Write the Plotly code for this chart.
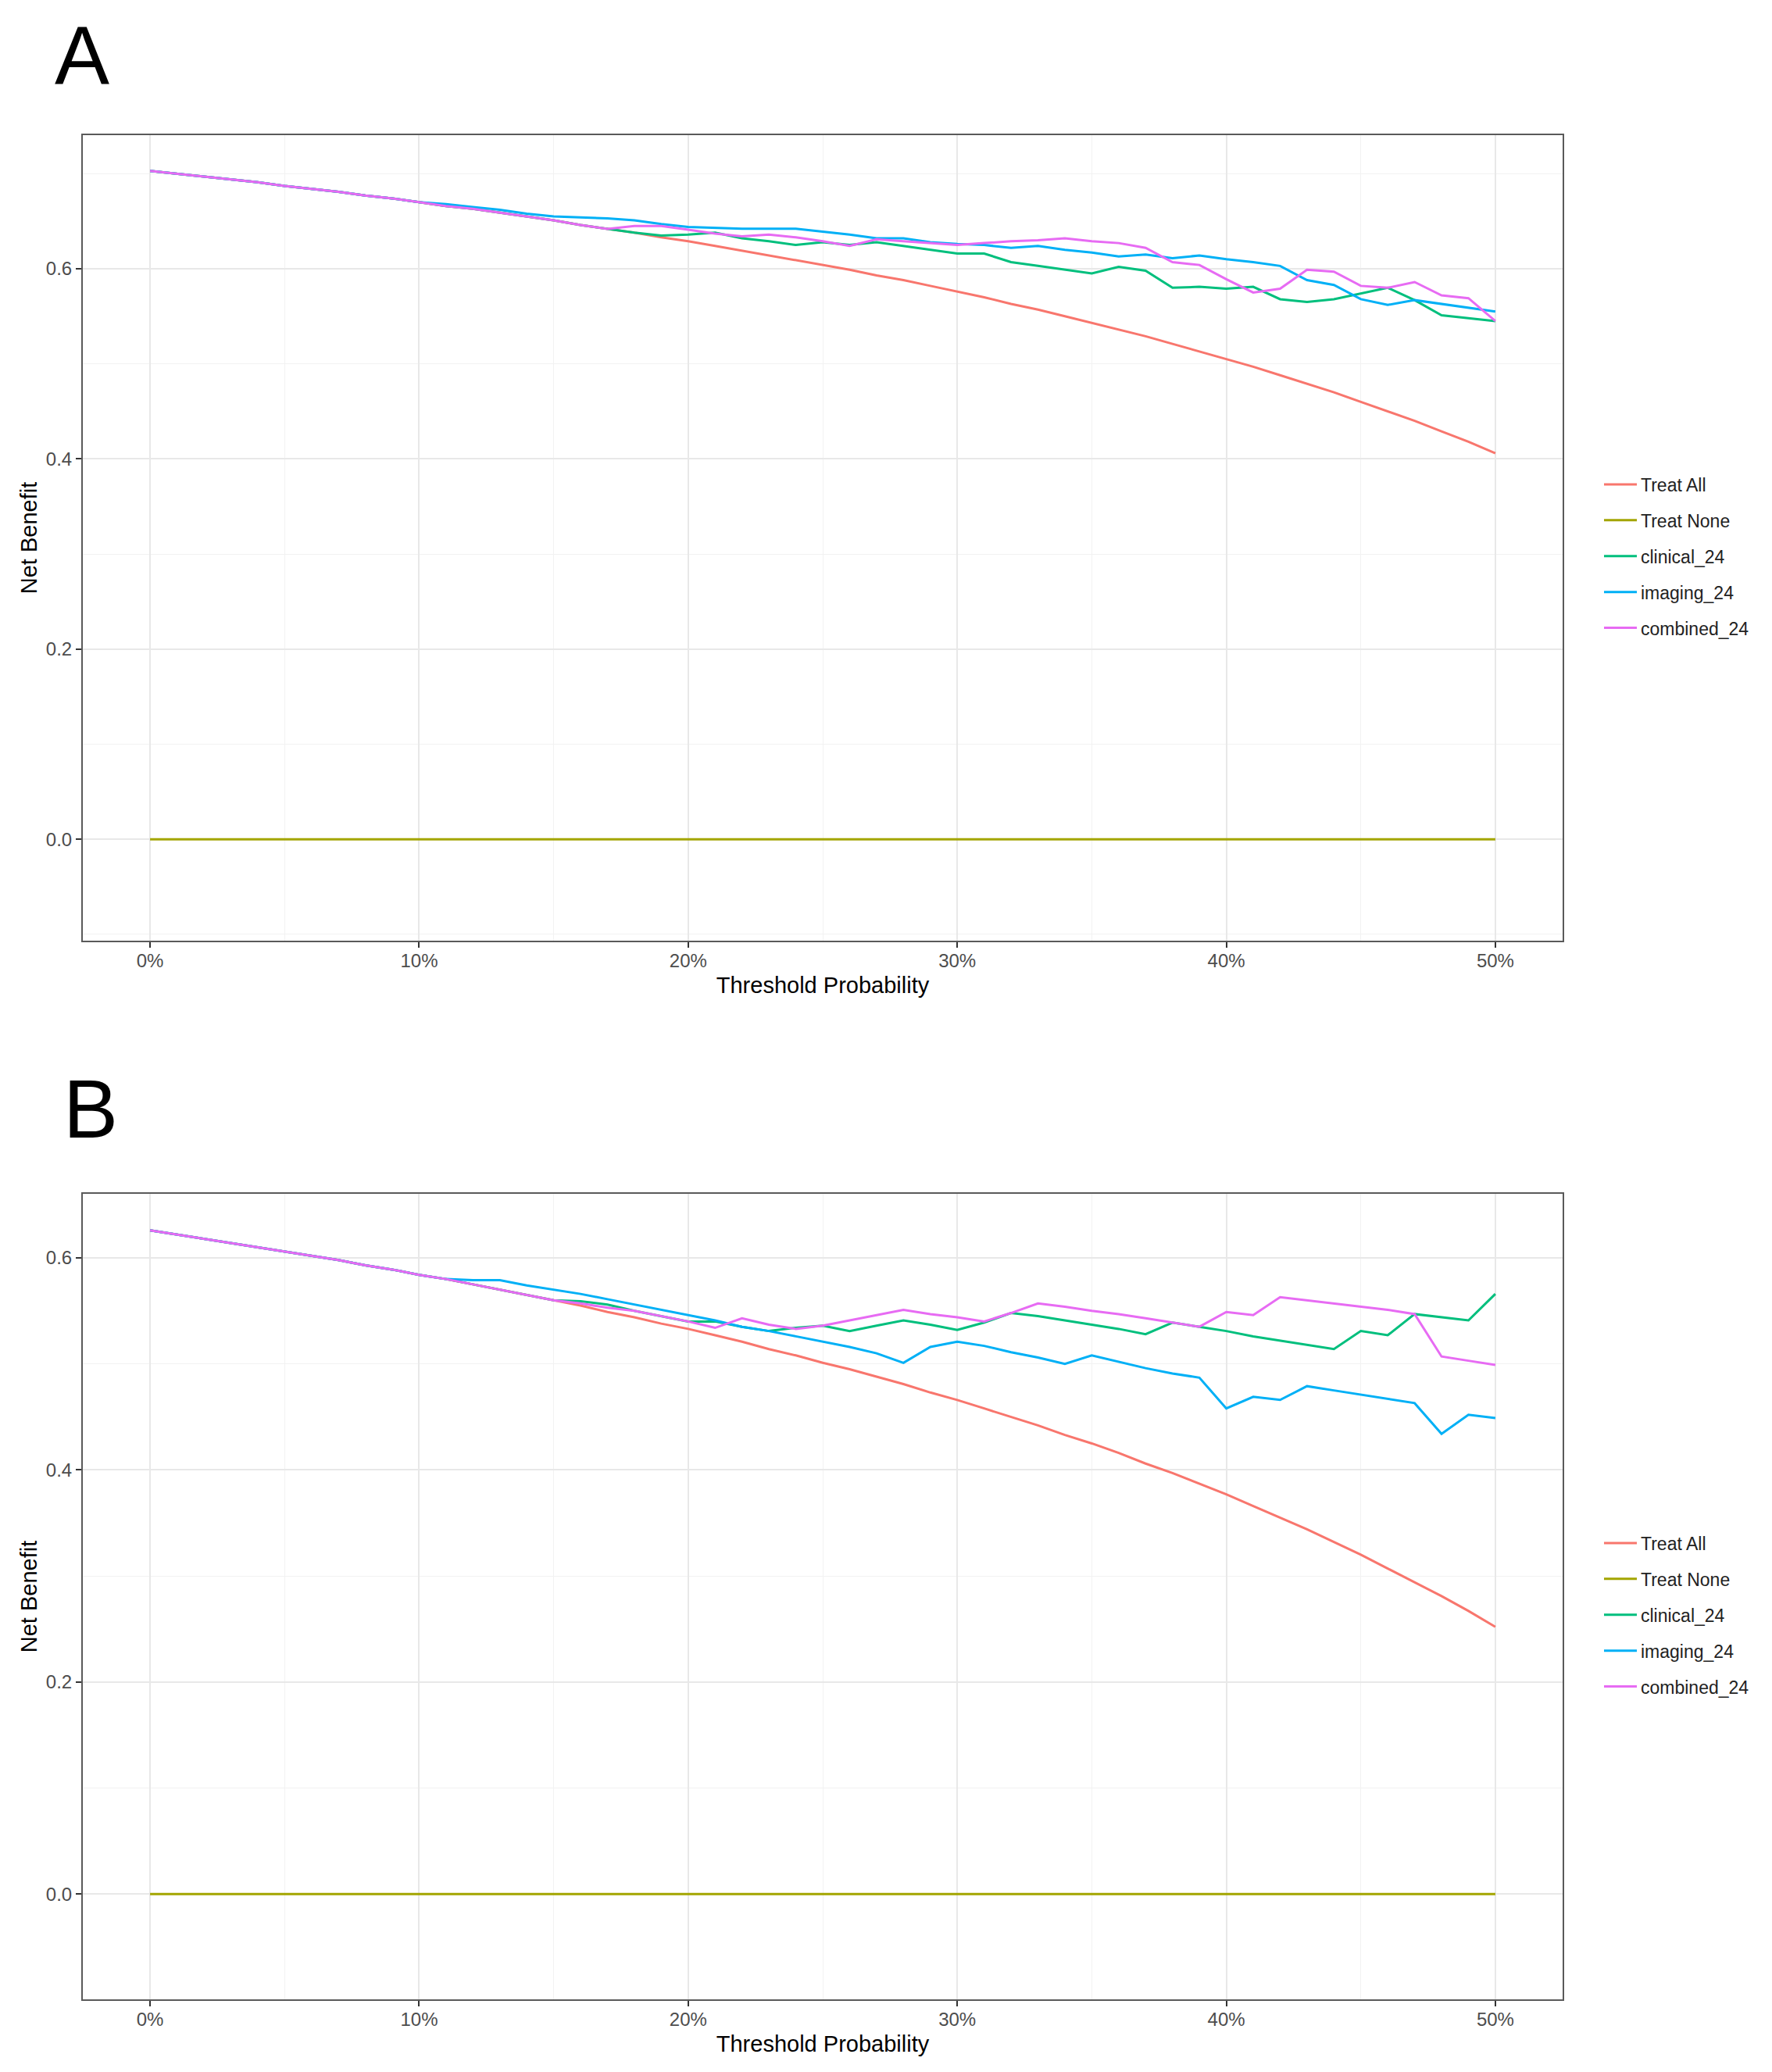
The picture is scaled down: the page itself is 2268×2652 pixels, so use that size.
"""decision curve analysis, two panels (A, B):
net benefit against threshold probability for treat all / treat none
and the three 24-month models"""

import plotly.graph_objects as go

# threshold probability in percent, 0..50 in steps of 1
thresholds = list(range(0, 51))

x_tickvals = [0, 10, 20, 30, 40, 50]
x_ticktext = ["0%", "10%", "20%", "30%", "40%", "50%"]

# ---- panel A ----
treat_all_a = [
    0.703, 0.700, 0.697, 0.694, 0.691, 0.687, 0.684, 0.681, 0.677, 0.674, 0.670,
    0.666, 0.663, 0.659, 0.655, 0.651, 0.646, 0.642, 0.638, 0.633, 0.629,
    0.624, 0.619, 0.614, 0.609, 0.604, 0.599, 0.593, 0.588, 0.582, 0.576,
    0.570, 0.563, 0.557, 0.550, 0.543, 0.536, 0.529, 0.521, 0.513, 0.505,
    0.497, 0.488, 0.479, 0.470, 0.460, 0.450, 0.440, 0.429, 0.418, 0.406,
]
treat_none_a = [0.0] * 51
clinical_a = [
    0.703, 0.700, 0.697, 0.694, 0.691, 0.687, 0.684, 0.681, 0.677, 0.674, 0.670,
    0.666, 0.663, 0.659, 0.655, 0.651, 0.646, 0.642, 0.638, 0.635, 0.636,
    0.638, 0.632, 0.629, 0.625, 0.628, 0.625, 0.628, 0.624, 0.620, 0.616,
    0.616, 0.607, 0.603, 0.599, 0.595, 0.602, 0.598, 0.580, 0.581, 0.579,
    0.581, 0.568, 0.565, 0.568, 0.574, 0.580, 0.567, 0.551, 0.548, 0.545,
]
imaging_a = [
    0.703, 0.700, 0.697, 0.694, 0.691, 0.687, 0.684, 0.681, 0.677, 0.674, 0.670,
    0.668, 0.665, 0.662, 0.658, 0.655, 0.654, 0.653, 0.651, 0.647, 0.644,
    0.643, 0.642, 0.642, 0.642, 0.639, 0.636, 0.632, 0.632, 0.628, 0.626,
    0.625, 0.622, 0.624, 0.620, 0.617, 0.613, 0.615, 0.611, 0.614, 0.610,
    0.607, 0.603, 0.588, 0.583, 0.568, 0.562, 0.567, 0.563, 0.559, 0.555,
]
combined_a = [
    0.703, 0.700, 0.697, 0.694, 0.691, 0.687, 0.684, 0.681, 0.677, 0.674, 0.670,
    0.666, 0.663, 0.659, 0.655, 0.651, 0.646, 0.642, 0.645, 0.645, 0.641,
    0.637, 0.634, 0.636, 0.633, 0.629, 0.624, 0.631, 0.629, 0.627, 0.625,
    0.627, 0.629, 0.630, 0.632, 0.629, 0.627, 0.622, 0.607, 0.604, 0.589,
    0.575, 0.579, 0.599, 0.597, 0.582, 0.580, 0.586, 0.572, 0.569, 0.545,
]

# ---- panel B ----
treat_all_b = [
    0.626, 0.622, 0.618, 0.614, 0.610, 0.606, 0.602, 0.598, 0.593, 0.589, 0.584,
    0.580, 0.575, 0.570, 0.565, 0.560, 0.555, 0.549, 0.544, 0.538, 0.533,
    0.527, 0.521, 0.514, 0.508, 0.501, 0.495, 0.488, 0.481, 0.473, 0.466,
    0.458, 0.450, 0.442, 0.433, 0.425, 0.416, 0.406, 0.397, 0.387, 0.377,
    0.366, 0.355, 0.344, 0.332, 0.320, 0.307, 0.294, 0.281, 0.267, 0.252,
]
treat_none_b = [0.0] * 51
clinical_b = [
    0.626, 0.622, 0.618, 0.614, 0.610, 0.606, 0.602, 0.598, 0.593, 0.589, 0.584,
    0.580, 0.575, 0.570, 0.565, 0.560, 0.559, 0.556, 0.550, 0.545, 0.540,
    0.540, 0.535, 0.531, 0.534, 0.536, 0.531, 0.536, 0.541, 0.537, 0.532,
    0.539, 0.548, 0.545, 0.541, 0.537, 0.533, 0.528, 0.539, 0.535, 0.531,
    0.526, 0.522, 0.518, 0.514, 0.531, 0.527, 0.547, 0.544, 0.541, 0.566,
]
imaging_b = [
    0.626, 0.622, 0.618, 0.614, 0.610, 0.606, 0.602, 0.598, 0.593, 0.589, 0.584,
    0.580, 0.579, 0.579, 0.574, 0.570, 0.566, 0.561, 0.556, 0.551, 0.546,
    0.541, 0.535, 0.531, 0.526, 0.521, 0.516, 0.510, 0.501, 0.516, 0.521,
    0.517, 0.511, 0.506, 0.500, 0.508, 0.502, 0.496, 0.491, 0.487, 0.458,
    0.469, 0.466, 0.479, 0.475, 0.471, 0.467, 0.463, 0.434, 0.452, 0.449,
]
combined_b = [
    0.626, 0.622, 0.618, 0.614, 0.610, 0.606, 0.602, 0.598, 0.593, 0.589, 0.584,
    0.580, 0.575, 0.570, 0.565, 0.560, 0.557, 0.553, 0.550, 0.545, 0.540,
    0.534, 0.543, 0.537, 0.533, 0.536, 0.541, 0.546, 0.551, 0.547, 0.544,
    0.540, 0.548, 0.557, 0.554, 0.550, 0.547, 0.543, 0.539, 0.535, 0.549,
    0.546, 0.563, 0.560, 0.557, 0.554, 0.551, 0.547, 0.507, 0.503, 0.499,
]

series_names = ["Treat All", "Treat None", "clinical_24", "imaging_24", "combined_24"]
# ggplot default hue palette for 5 groups
GG_COLOURS = ["#F8766D", "#A3A500", "#00BF7D", "#00B0F6", "#E76BF3"]

FONT = "Liberation Sans, Arial, sans-serif"

W, H = 2268, 2652
OFF = 8  # page body margin, pull everything back by this much


def px_x(p):
    return (p - OFF) / W


def px_y(p):
    return 1 - (p - OFF) / H


fig = go.Figure()

panels = [
    ("x", "y", "legend", [treat_all_a, treat_none_a, clinical_a, imaging_a, combined_a]),
    ("x2", "y2", "legend2", [treat_all_b, treat_none_b, clinical_b, imaging_b, combined_b]),
]
for xref, yref, leg, series in panels:
    for i, (name, vals) in enumerate(zip(series_names, series)):
        fig.add_trace(
            go.Scatter(
                x=thresholds,
                y=vals,
                mode="lines",
                name=name,
                xaxis=xref,
                yaxis=yref,
                legend=leg,
                legendgroup=leg + str(i),
                line=dict(color=GG_COLOURS[i], width=3),
            )
        )

# shared look for the axes (theme_bw-ish)
axis_common = dict(
    showline=True,
    mirror=True,
    linecolor="#5a5a5a",
    linewidth=2,
    showgrid=True,
    gridcolor="#e8e8e8",
    gridwidth=2,
    zeroline=False,
    ticks="outside",
    ticklen=7,
    tickwidth=2,
    tickcolor="#333333",
    tickfont=dict(family=FONT, size=24, color="#4d4d4d"),
    automargin=False,
)

x_common = dict(
    axis_common,
    range=[-2.5, 52.5],
    tickvals=x_tickvals,
    ticktext=x_ticktext,
    ticklabelstandoff=-4,
    minor=dict(dtick=5, tick0=0, showgrid=True, gridcolor="#f2f2f2", gridwidth=1, ticks=""),
    title=dict(text="Threshold Probability", font=dict(family=FONT, size=29, color="#000000"), standoff=9),
)
y_common = dict(
    axis_common,
    tickvals=[0.0, 0.2, 0.4, 0.6],
    ticktext=["0.0", "0.2", "0.4", "0.6"],
    minor=dict(dtick=0.1, tick0=0, showgrid=True, gridcolor="#f2f2f2", gridwidth=1, ticks=""),
    title=dict(text="Net Benefit", font=dict(family=FONT, size=29, color="#000000"), standoff=3),
)

legend_common = dict(
    font=dict(family=FONT, size=23, color="#222222"),
    bgcolor="rgba(0,0,0,0)",
    xanchor="left",
    yanchor="middle",
    tracegroupgap=13,
    itemwidth=42,
)

fig.update_layout(
    width=W,
    height=H,
    autosize=False,
    plot_bgcolor="white",
    paper_bgcolor="white",
    margin=dict(l=0, r=0, t=0, b=0),
    xaxis=dict(x_common, domain=[px_x(106), px_x(2000)], anchor="y"),
    yaxis=dict(y_common, domain=[px_y(1204), px_y(173)], range=[-0.1067, 0.7405], anchor="x"),
    xaxis2=dict(x_common, domain=[px_x(106), px_x(2000)], anchor="y2"),
    yaxis2=dict(y_common, domain=[px_y(2559), px_y(1528)], range=[-0.0993, 0.6604], anchor="x2"),
    legend=dict(legend_common, x=px_x(2048), y=px_y(712)),
    legend2=dict(legend_common, x=px_x(2048), y=px_y(2067)),
    showlegend=True,
    annotations=[
        dict(text="A", x=px_x(68), y=px_y(70), xref="paper", yref="paper",
             xanchor="left", yanchor="middle", showarrow=False,
             font=dict(family=FONT, size=105, color="#000000")),
        dict(text="B", x=px_x(79), y=px_y(1419), xref="paper", yref="paper",
             xanchor="left", yanchor="middle", showarrow=False,
             font=dict(family=FONT, size=105, color="#000000")),
    ],
)

fig.write_html("out.html")
